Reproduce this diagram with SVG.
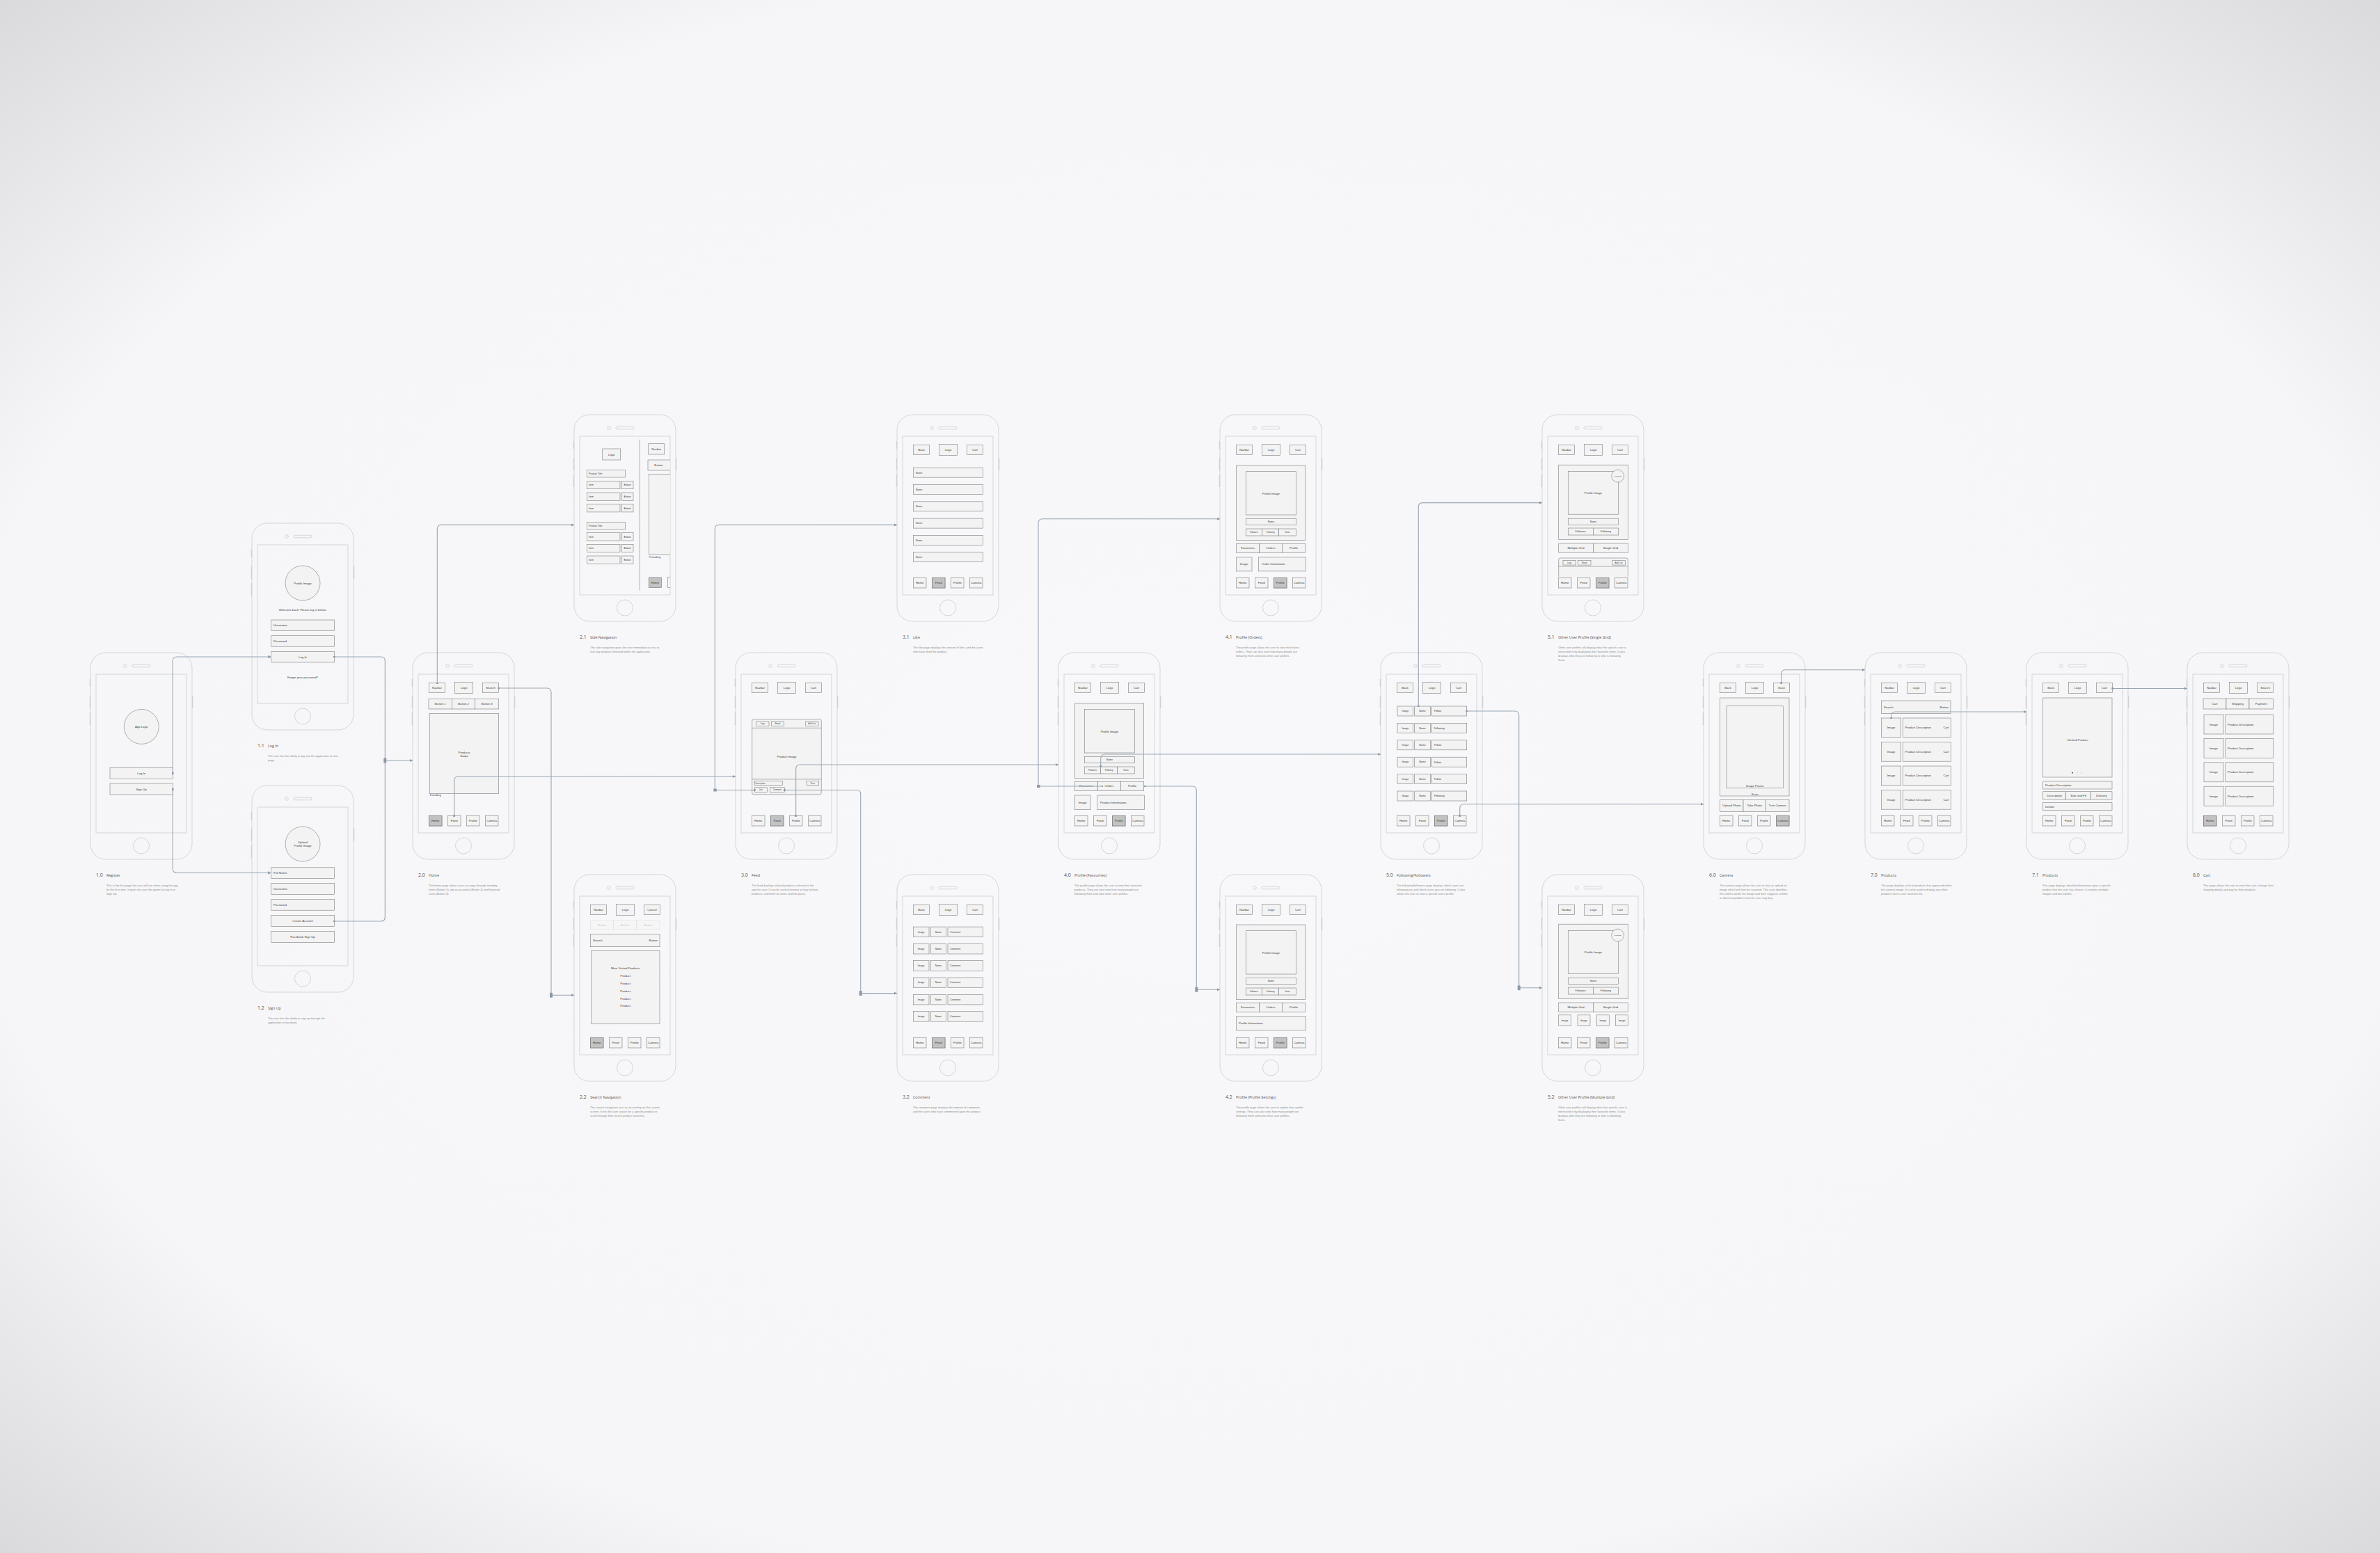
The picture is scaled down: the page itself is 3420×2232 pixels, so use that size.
<svg xmlns="http://www.w3.org/2000/svg" width="3420" height="2232" viewBox="0 0 3420 2232">
<defs>
<style>
.ph{fill:none;stroke:#d4d5d8;stroke-width:1}
.sb{fill:none;stroke:#d0d1d4;stroke-width:1.4}
.w{fill:#f3f3f3;stroke:#7e7e7e;stroke-width:.6}
.hl{fill:#c2c2c2;stroke:#6e6e6e;stroke-width:.6}
.fd{fill:#f6f6f6;stroke:#e0e0e0;stroke-width:.6}
.ln{fill:none;stroke:#7e7e7e;stroke-width:.6}
text{font-family:"Liberation Sans",Arial,sans-serif;fill:#3a3a3a}
.t{font-size:4.3px;text-anchor:middle}
.tl{font-size:4.3px}
.te{font-size:4.3px;text-anchor:end}
.s{font-size:3.5px;text-anchor:middle}
.sl{font-size:3.5px}
.xs{font-size:2.8px;text-anchor:middle}
.ft{font-size:4.3px;text-anchor:middle;fill:#c8c8c8}
.num{font-family:"Open Sans","Liberation Sans",sans-serif;font-size:7px;fill:#555}
.ttl{font-family:"Open Sans","Liberation Sans",sans-serif;font-size:5.3px;fill:#555}
.ds{font-size:4.05px;fill:#8a8a8a}
.cn{fill:none;stroke:#9aa5b1;stroke-width:1.1}
.jn{fill:#8d99a6}
</style>
<radialGradient id="bg" cx="50%" cy="50%" r="72%">
<stop offset="0" stop-color="#f8f8fa"/>
<stop offset="0.72" stop-color="#f6f6f8"/>
<stop offset="1" stop-color="#d8d8db"/>
</radialGradient>
<marker id="arr" viewBox="0 0 6 6" refX="6" refY="3" markerWidth="4.5" markerHeight="4.5" markerUnits="userSpaceOnUse" orient="auto">
<path d="M0,0 L6,3 L0,6 z" fill="#8d99a6"/>
</marker>
<marker id="sq" viewBox="0 0 4 4" refX="2" refY="2" markerWidth="2.8" markerHeight="2.8" markerUnits="userSpaceOnUse">
<rect width="4" height="4" fill="#8d99a6"/>
</marker>
<g id="frame">
<rect class="ph" x="0" y="0" width="146" height="297" rx="22"/>
<circle class="ph" cx="50" cy="19" r="2.3"/>
<rect class="ph" x="60" y="17.2" width="26" height="3.6" rx="1.8"/>
<rect class="ph" x="8" y="31" width="130" height="228"/>
<circle class="ph" cx="73" cy="277.5" r="11.5"/>
<path class="sb" d="M-0.6,38v11M-0.6,62v18M-0.6,86v18M146.6,62v18"/>
</g>
<g id="tb">
<rect class="w" x="23.5" y="43.5" width="23" height="14"/>
<rect class="w" x="60.5" y="42.5" width="26" height="16"/>
<rect class="w" x="100.5" y="43.5" width="23" height="14"/>
</g>
<g id="tabs">
<rect class="w" x="23.5" y="234.5" width="18.5" height="14.5"/>
<rect class="w" x="50.5" y="234.5" width="18.5" height="14.5"/>
<rect class="w" x="77.5" y="234.5" width="18.5" height="14.5"/>
<rect class="w" x="104.5" y="234.5" width="18.5" height="14.5"/>
</g>
<g id="tabt">
<text class="t" x="32.75" y="243.3">Home</text>
<text class="t" x="59.75" y="243.3">Feed</text>
<text class="t" x="86.75" y="243.3">Profile</text>
<text class="t" x="113.75" y="243.3">Camera</text>
</g>
<g id="fhead">
<rect class="w" x="29.7" y="0" width="18.3" height="6.6"/>
<rect class="w" x="51.3" y="0" width="18.4" height="6.6"/>
<rect class="w" x="100.7" y="0" width="18.3" height="6.6"/>
<text class="xs" x="38.85" y="4.3">Logo</text>
<text class="xs" x="60.5" y="4.3">Brand</text>
<text class="xs" x="109.85" y="4.3">Add Cart</text>
</g>
<g id="pcard">
<rect class="w" x="23.3" y="73" width="99.4" height="107.6"/>
<rect class="w" x="37.3" y="81.7" width="72" height="62.3"/>
<text class="t" x="73.3" y="114.5">Profile Image</text>
<rect class="w" x="37.3" y="149.4" width="72" height="9.3"/>
<text class="s" x="73.3" y="155.3">Name</text>
<rect class="w" x="37.3" y="164" width="23.4" height="10"/>
<rect class="w" x="60.7" y="164" width="24" height="10"/>
<rect class="w" x="84.7" y="164" width="24.6" height="10"/>
<text class="xs" x="49" y="170">Followers</text>
<text class="xs" x="72.7" y="170">Following</text>
<text class="xs" x="97" y="170">Views</text>
<rect class="w" x="23.3" y="185.2" width="33.4" height="13.3"/>
<rect class="w" x="56.7" y="185.2" width="32.6" height="13.3"/>
<rect class="w" x="89.3" y="185.2" width="33.4" height="13.3"/>
<text class="t" x="40" y="193.3">Favourites</text>
<text class="t" x="73" y="193.3">Orders</text>
<text class="t" x="106" y="193.3">Profile</text>
</g>
<g id="ucard">
<rect class="w" x="23.7" y="72.2" width="99.6" height="107.5"/>
<rect class="w" x="37.3" y="81.5" width="72.4" height="61.7"/>
<text class="t" x="73.5" y="114">Profile Image</text>
<circle class="w" cx="108.7" cy="88.1" r="9"/>
<text class="xs" x="108.7" y="89" style="font-size:2.3px">Following</text>
<rect class="w" x="37.3" y="149.2" width="72.4" height="9.2"/>
<text class="s" x="73.5" y="155">Name</text>
<rect class="w" x="37.3" y="163" width="36" height="10"/>
<rect class="w" x="73.3" y="163" width="36.4" height="10"/>
<text class="s" x="55.3" y="169.3">Followers</text>
<text class="s" x="91.5" y="169.3">Following</text>
<rect class="w" x="23.7" y="185" width="49.8" height="13.2"/>
<rect class="w" x="73.5" y="185" width="49.8" height="13.2"/>
<text class="t" x="48.6" y="193">Multiple Grid</text>
<text class="t" x="98.4" y="193">Single Grid</text>
</g>
<clipPath id="cp21"><rect x="94.5" y="31" width="43.5" height="228"/></clipPath>
</defs>

<rect x="0" y="0" width="3420" height="2232" fill="url(#bg)"/>

<!-- 1.0 Register -->
<g id="n-1-0" transform="translate(130,938)">
<use href="#frame"/>
<circle class="w" cx="73.3" cy="106.4" r="25"/>
<text class="t" x="73.3" y="108">App Logo</text>
<rect class="w" x="28" y="165.5" width="90.3" height="16"/>
<text class="t" x="73.2" y="175">Log In</text>
<rect class="w" x="28" y="188" width="90.3" height="16"/>
<text class="t" x="73.2" y="197.5">Sign Up</text>
<text class="num" x="8" y="322">1.0</text><text class="ttl" x="23" y="322">Register</text>
<text class="ds"><tspan x="23" y="335.5">This is the first page the user will see when using the app</tspan><tspan x="23" dy="6.1">for the first time. It gives the user the option to Log In or</tspan><tspan x="23" dy="6.1">Sign Up.</tspan></text>
</g>

<!-- 1.1 Log In -->
<g id="n-1-1" transform="translate(362,752)">
<use href="#frame"/>
<circle class="w" cx="73" cy="86" r="25"/>
<text class="t" x="73" y="87.5">Profile Image</text>
<text class="t" x="73" y="125.5">Welcome back! Please log in below.</text>
<rect class="w" x="27.7" y="139" width="90.6" height="15.6"/>
<text class="tl" x="31" y="148.4">Username</text>
<rect class="w" x="27.7" y="161.7" width="90.6" height="15.5"/>
<text class="tl" x="31" y="171">Password</text>
<rect class="w" x="27.7" y="184.3" width="90.6" height="15.6"/>
<text class="t" x="73" y="193.7">Log In</text>
<text class="t" x="73" y="222.5">Forgot your password?</text>
<text class="num" x="8" y="322">1.1</text><text class="ttl" x="23" y="322">Log In</text>
<text class="ds"><tspan x="23" y="335.5">The user has the ability to log into the application on this</tspan><tspan x="23" dy="6.1">page.</tspan></text>
</g>

<!-- 1.2 Sign Up -->
<g id="n-1-2" transform="translate(362,1129)">
<use href="#frame"/>
<circle class="w" cx="73" cy="84" r="25"/>
<text class="t" x="73" y="82.8">Upload</text>
<text class="t" x="73" y="88.3">Profile Image</text>
<rect class="w" x="27.7" y="117.8" width="90.6" height="15.6"/>
<text class="tl" x="31" y="127.2">Full Name</text>
<rect class="w" x="27.7" y="140.5" width="90.6" height="16"/>
<text class="tl" x="31" y="150">Username</text>
<rect class="w" x="27.7" y="163.6" width="90.6" height="15.6"/>
<text class="tl" x="31" y="173">Password</text>
<rect class="w" x="27.7" y="186.7" width="90.6" height="15.6"/>
<text class="t" x="73" y="196.1">Create Account</text>
<rect class="w" x="27.7" y="209.4" width="90.6" height="16"/>
<text class="t" x="73" y="219">Facebook Sign Up</text>
<text class="num" x="8" y="322">1.2</text><text class="ttl" x="23" y="322">Sign Up</text>
<text class="ds"><tspan x="23" y="335.5">The user has the ability to sign up through the</tspan><tspan x="23" dy="6.1">application or facebook.</tspan></text>
</g>

<!-- 2.0 Home -->
<g id="n-2-0" transform="translate(593,938)">
<use href="#frame"/>
<use href="#tb"/>
<text class="t" x="35" y="52">Navbar</text><text class="t" x="73.5" y="52">Logo</text><text class="t" x="112" y="52">Search</text>
<rect class="w" x="23" y="66.5" width="33.3" height="14.5"/>
<rect class="w" x="56.3" y="66.5" width="33.4" height="14.5"/>
<rect class="w" x="89.7" y="66.5" width="34" height="14.5"/>
<text class="t" x="39.7" y="75.3">Button 1</text><text class="t" x="73" y="75.3">Button 2</text><text class="t" x="106.7" y="75.3">Button 3</text>
<rect class="w" x="24.3" y="87.7" width="99.4" height="114.8"/>
<text class="t" x="74" y="144.5">Products</text><text class="t" x="74" y="149.8">Swipe</text>
<text class="tl" x="24" y="206.3">Trending</text>
<use href="#tabs"/>
<rect class="hl" x="23.5" y="234.5" width="18.5" height="14.5"/>
<use href="#tabt"/>
<text class="num" x="8" y="322">2.0</text><text class="ttl" x="23" y="322">Home</text>
<text class="ds"><tspan x="23" y="335.5">The home page allows users to swipe through trending</tspan><tspan x="23" dy="6.1">items (Button 1), top accessories (Button 2) and featured</tspan><tspan x="23" dy="6.1">icons (Button 3).</tspan></text>
</g>

<!-- 2.1 Side Navigation -->
<g id="n-2-1" transform="translate(825,596)">
<use href="#frame"/>
<line class="ln" x1="94.3" y1="35.7" x2="94.3" y2="252.6"/>
<rect class="w" x="40.7" y="49" width="26" height="16"/>
<text class="t" x="53.7" y="58.5">Logo</text>
<rect class="w" x="18.3" y="79.5" width="55" height="10.5"/>
<text class="sl" x="21" y="86">Product Title</text>
<rect class="w" x="18.3" y="95.4" width="47.7" height="11.3"/><rect class="w" x="68.3" y="95.4" width="16.7" height="11.3"/>
<rect class="w" x="18.3" y="112" width="47.7" height="11.3"/><rect class="w" x="68.3" y="112" width="16.7" height="11.3"/>
<rect class="w" x="18.3" y="128.6" width="47.7" height="11.3"/><rect class="w" x="68.3" y="128.6" width="16.7" height="11.3"/>
<text class="sl" x="21" y="102.3">Item</text><text class="s" x="76.65" y="102.3">Button</text>
<text class="sl" x="21" y="118.9">Item</text><text class="s" x="76.65" y="118.9">Button</text>
<text class="sl" x="21" y="135.5">Item</text><text class="s" x="76.65" y="135.5">Button</text>
<rect class="w" x="18.3" y="154.5" width="55" height="10.5"/>
<text class="sl" x="21" y="161">Product Title</text>
<rect class="w" x="18.3" y="169.7" width="47.7" height="11.3"/><rect class="w" x="68.3" y="169.7" width="16.7" height="11.3"/>
<rect class="w" x="18.3" y="186.3" width="47.7" height="11.3"/><rect class="w" x="68.3" y="186.3" width="16.7" height="11.3"/>
<rect class="w" x="18.3" y="203" width="47.7" height="11.3"/><rect class="w" x="68.3" y="203" width="16.7" height="11.3"/>
<text class="sl" x="21" y="176.6">Item</text><text class="s" x="76.65" y="176.6">Button</text>
<text class="sl" x="21" y="193.2">Item</text><text class="s" x="76.65" y="193.2">Button</text>
<text class="sl" x="21" y="209.9">Item</text><text class="s" x="76.65" y="209.9">Button</text>
<g clip-path="url(#cp21)">
<rect class="w" x="106.7" y="41.7" width="23" height="15.3"/>
<text class="t" x="118.2" y="50.8">Navbar</text>
<rect class="w" x="106" y="65" width="34" height="15"/>
<text class="t" x="121.5" y="73.8">Button</text>
<rect class="w" x="107.3" y="85.5" width="40" height="115.5"/>
<text class="tl" x="107.5" y="205.5">Trending</text>
<rect class="hl" x="107.3" y="234" width="18" height="14.5"/>
<text class="t" x="116.3" y="242.8">Home</text>
<rect class="w" x="134.3" y="234" width="18" height="14.5"/>
</g>
<text class="num" x="8" y="322">2.1</text><text class="ttl" x="23" y="322">Side Navigation</text>
<text class="ds"><tspan x="23" y="335.5">The side navigation gives the user immediate access to</tspan><tspan x="23" dy="6.1">visit any products featured within the application.</tspan></text>
</g>

<!-- 2.2 Search Navigation -->
<g id="n-2-2" transform="translate(825,1257)">
<use href="#frame"/>
<use href="#tb"/>
<text class="t" x="35" y="52">Navbar</text><text class="t" x="73.5" y="52">Logo</text><text class="t" x="112" y="52">Cancel</text>
<rect class="fd" x="23.5" y="66" width="33.2" height="13"/>
<rect class="fd" x="56.7" y="66" width="33.1" height="13"/>
<rect class="fd" x="89.8" y="66" width="33.2" height="13"/>
<text class="ft" x="40.1" y="74">Button</text><text class="ft" x="73.2" y="74">Button</text><text class="ft" x="106.4" y="74">Button</text>
<rect class="w" x="23.5" y="85.8" width="99.5" height="17.9"/>
<text class="tl" x="27" y="96.3">Search</text><text class="te" x="120" y="96.3">Button</text>
<rect class="w" x="24.3" y="109.6" width="98.7" height="104.8"/>
<text class="t" x="73.7" y="136.3">Most Visited Products</text>
<text class="t" x="73.7" y="146.9">Product</text>
<text class="t" x="73.7" y="157.5">Product</text>
<text class="t" x="73.7" y="168.8">Product</text>
<text class="t" x="73.7" y="179.5">Product</text>
<text class="t" x="73.7" y="190.1">Product</text>
<use href="#tabs"/>
<rect class="hl" x="23.5" y="234.5" width="18.5" height="14.5"/>
<use href="#tabt"/>
<text class="num" x="8" y="322">2.2</text><text class="ttl" x="23" y="322">Search Navigation</text>
<text class="ds"><tspan x="23" y="335.5">The search navigation acts as an overlay on the current</tspan><tspan x="23" dy="6.1">screen. It lets the user search for a specific product or</tspan><tspan x="23" dy="6.1">scroll through their recent product searches.</tspan></text>
</g>

<!-- 3.0 Feed -->
<g id="n-3-0" transform="translate(1057,938)">
<use href="#frame"/>
<use href="#tb"/>
<text class="t" x="35" y="52">Navbar</text><text class="t" x="73.5" y="52">Logo</text><text class="t" x="112" y="52">Cart</text>
<rect class="w" x="23.7" y="95.7" width="99.6" height="108.1" rx="2.5"/>
<line class="ln" x1="23.7" y1="108.3" x2="123.3" y2="108.3"/>
<line class="ln" x1="23.7" y1="181.9" x2="123.3" y2="181.9"/>
<use href="#fhead" transform="translate(0,99)"/>
<text class="t" x="73.5" y="150.5">Product Image</text>
<rect class="w" x="27.3" y="184.5" width="40" height="6"/>
<rect class="w" x="102" y="184.5" width="17.7" height="6"/>
<text class="xs" style="text-anchor:start" x="28.5" y="188.5">Description</text>
<text class="xs" x="110.85" y="188.5">Price</text>
<rect class="w" x="27.3" y="193.8" width="18" height="6.7"/>
<rect class="w" x="49.3" y="193.8" width="21" height="6.7"/>
<text class="xs" x="36.3" y="198.1">Like</text>
<text class="xs" x="59.8" y="198.1">Comment</text>
<use href="#tabs"/>
<rect class="hl" x="50.5" y="234.5" width="18.5" height="14.5"/>
<use href="#tabt"/>
<text class="num" x="8" y="322">3.0</text><text class="ttl" x="23" y="322">Feed</text>
<text class="ds"><tspan x="23" y="335.5">The feed displays tailored products relevant to the</tspan><tspan x="23" dy="6.1">specific user. It can be used to browse or buy fashion</tspan><tspan x="23" dy="6.1">products, comment on items and like posts.</tspan></text>
</g>

<!-- 3.1 Like -->
<g id="n-3-1" transform="translate(1289,596)">
<use href="#frame"/>
<use href="#tb"/>
<text class="t" x="35" y="52">Back</text><text class="t" x="73.5" y="52">Logo</text><text class="t" x="112" y="52">Cart</text>
<rect class="w" x="23.3" y="76.2" width="100" height="14"/>
<rect class="w" x="23.3" y="100.5" width="100" height="14"/>
<rect class="w" x="23.3" y="124.8" width="100" height="14"/>
<rect class="w" x="23.3" y="149.1" width="100" height="14"/>
<rect class="w" x="23.3" y="173.4" width="100" height="14"/>
<rect class="w" x="23.3" y="197.7" width="100" height="14"/>
<text class="sl" x="27" y="84.5">Name</text>
<text class="sl" x="27" y="108.8">Name</text>
<text class="sl" x="27" y="133.1">Name</text>
<text class="sl" x="27" y="157.4">Name</text>
<text class="sl" x="27" y="181.7">Name</text>
<text class="sl" x="27" y="206">Name</text>
<use href="#tabs"/>
<rect class="hl" x="50.5" y="234.5" width="18.5" height="14.5"/>
<use href="#tabt"/>
<text class="num" x="8" y="322">3.1</text><text class="ttl" x="23" y="322">Like</text>
<text class="ds"><tspan x="23" y="335.5">The like page displays the amount of likes and the users</tspan><tspan x="23" dy="6.1">who have liked the product.</tspan></text>
</g>

<!-- 3.2 Comment -->
<g id="n-3-2" transform="translate(1289,1257)">
<use href="#frame"/>
<use href="#tb"/>
<text class="t" x="35" y="52">Back</text><text class="t" x="73.5" y="52">Logo</text><text class="t" x="112" y="52">Cart</text>
<g id="crow">
<rect class="w" x="23.3" y="75.1" width="22.7" height="14.6"/>
<rect class="w" x="48.3" y="75.1" width="22" height="14.6"/>
<rect class="w" x="73" y="75.1" width="50.3" height="14.6"/>
<text class="s" x="34.65" y="83.6">Image</text>
<text class="s" x="59.3" y="83.6">Name</text>
<text class="sl" x="76" y="83.6">Comment</text>
</g>
<use href="#crow" transform="translate(0,24.3)"/>
<use href="#crow" transform="translate(0,48.6)"/>
<use href="#crow" transform="translate(0,72.9)"/>
<use href="#crow" transform="translate(0,97.2)"/>
<use href="#crow" transform="translate(0,121.5)"/>
<use href="#tabs"/>
<rect class="hl" x="50.5" y="234.5" width="18.5" height="14.5"/>
<use href="#tabt"/>
<text class="num" x="8" y="322">3.2</text><text class="ttl" x="23" y="322">Comment</text>
<text class="ds"><tspan x="23" y="335.5">The comment page displays the amount of comments</tspan><tspan x="23" dy="6.1">and the users who have commented upon the product.</tspan></text>
</g>

<!-- 4.0 Profile (Favourites) -->
<g id="n-4-0" transform="translate(1521,938)">
<use href="#frame"/>
<use href="#tb"/>
<text class="t" x="35" y="52">Navbar</text><text class="t" x="73.5" y="52">Logo</text><text class="t" x="112" y="52">Cart</text>
<use href="#pcard"/>
<rect class="w" x="23.3" y="205" width="22.7" height="20.7"/>
<text class="t" x="34.65" y="216.8">Image</text>
<rect class="w" x="55.7" y="205" width="67.6" height="20.7"/>
<text class="tl" x="60" y="216.8">Product Information</text>
<use href="#tabs"/>
<rect class="hl" x="77.5" y="234.5" width="18.5" height="14.5"/>
<use href="#tabt"/>
<text class="num" x="8" y="322">4.0</text><text class="ttl" x="23" y="322">Profile (Favourites)</text>
<text class="ds"><tspan x="23" y="335.5">The profile page allows the user to view their favourite</tspan><tspan x="23" dy="6.1">products. They can also view how many people are</tspan><tspan x="23" dy="6.1">following them and view other user profiles.</tspan></text>
</g>

<!-- 4.1 Profile (Orders) -->
<g id="n-4-1" transform="translate(1753,596)">
<use href="#frame"/>
<use href="#tb"/>
<text class="t" x="35" y="52">Navbar</text><text class="t" x="73.5" y="52">Logo</text><text class="t" x="112" y="52">Cart</text>
<use href="#pcard"/>
<rect class="w" x="23.3" y="204.9" width="22.7" height="20"/>
<text class="t" x="34.65" y="216.4">Image</text>
<rect class="w" x="55.3" y="204.9" width="68" height="20"/>
<text class="tl" x="60" y="216.4">Order Information</text>
<use href="#tabs"/>
<rect class="hl" x="77.5" y="234.5" width="18.5" height="14.5"/>
<use href="#tabt"/>
<text class="num" x="8" y="322">4.1</text><text class="ttl" x="23" y="322">Profile (Orders)</text>
<text class="ds"><tspan x="23" y="335.5">The profile page allows the user to view their latest</tspan><tspan x="23" dy="6.1">orders. They can also view how many people are</tspan><tspan x="23" dy="6.1">following them and view other user profiles.</tspan></text>
</g>

<!-- 4.2 Profile (Profile Settings) -->
<g id="n-4-2" transform="translate(1753,1257)">
<use href="#frame"/>
<use href="#tb"/>
<text class="t" x="35" y="52">Navbar</text><text class="t" x="73.5" y="52">Logo</text><text class="t" x="112" y="52">Cart</text>
<use href="#pcard" transform="translate(0,-1)"/>
<rect class="w" x="23.3" y="203.8" width="100" height="20"/>
<text class="tl" x="27" y="215.3">Profile Information</text>
<use href="#tabs"/>
<rect class="hl" x="77.5" y="234.5" width="18.5" height="14.5"/>
<use href="#tabt"/>
<text class="num" x="8" y="322">4.2</text><text class="ttl" x="23" y="322">Profile (Profile Settings)</text>
<text class="ds"><tspan x="23" y="335.5">The profile page allows the user to update their profile</tspan><tspan x="23" dy="6.1">settings. They can also view how many people are</tspan><tspan x="23" dy="6.1">following them and view other user profiles.</tspan></text>
</g>

<!-- 5.0 Following/Followers -->
<g id="n-5-0" transform="translate(1984,938)">
<use href="#frame"/>
<use href="#tb"/>
<text class="t" x="35" y="52">Back</text><text class="t" x="73.5" y="52">Logo</text><text class="t" x="112" y="52">Cart</text>
<g id="frow">
<rect class="w" x="24" y="77" width="22.7" height="14"/>
<rect class="w" x="48.7" y="77" width="22.6" height="14"/>
<rect class="w" x="73.3" y="77" width="50.4" height="14"/>
<text class="s" x="35.35" y="85.3">Image</text>
<text class="s" x="60" y="85.3">Name</text>
</g>
<use href="#frow" transform="translate(0,24.4)"/>
<use href="#frow" transform="translate(0,48.8)"/>
<use href="#frow" transform="translate(0,73.2)"/>
<use href="#frow" transform="translate(0,97.6)"/>
<use href="#frow" transform="translate(0,122)"/>
<text class="sl" x="77" y="85.3">Follow</text>
<text class="sl" x="77" y="109.7">Following</text>
<text class="sl" x="77" y="134.1">Follow</text>
<text class="sl" x="77" y="158.5">Follow</text>
<text class="sl" x="77" y="182.9">Follow</text>
<text class="sl" x="77" y="207.3">Following</text>
<use href="#tabs"/>
<rect class="hl" x="77.5" y="234.5" width="18.5" height="14.5"/>
<use href="#tabt"/>
<text class="num" x="8" y="322">5.0</text><text class="ttl" x="23" y="322">Following/Followers</text>
<text class="ds"><tspan x="23" y="335.5">The following/followers page displays which users are</tspan><tspan x="23" dy="6.1">following you and which users you are following. It also</tspan><tspan x="23" dy="6.1">allows the user to view a specific users profile.</tspan></text>
</g>

<!-- 5.1 Other User Profile (Single Grid) -->
<g id="n-5-1" transform="translate(2216,596)">
<use href="#frame"/>
<use href="#tb"/>
<text class="t" x="35" y="52">Navbar</text><text class="t" x="73.5" y="52">Logo</text><text class="t" x="112" y="52">Cart</text>
<use href="#ucard"/>
<path class="w" d="M23.7,232.7 V208.5 Q23.7,206 26.2,206 H120.8 Q123.3,206 123.3,208.5 V232.7"/>
<line class="ln" x1="23.7" y1="218" x2="123.3" y2="218"/>
<use href="#fhead" transform="translate(0.3,209.5)"/>
<use href="#tabs"/>
<rect class="hl" x="77.5" y="234.5" width="18.5" height="14.5"/>
<use href="#tabt"/>
<text class="num" x="8" y="322">5.1</text><text class="ttl" x="23" y="322">Other User Profile (Single Grid)</text>
<text class="ds"><tspan x="23" y="335.5">Other user profiles will display what the specific user is</tspan><tspan x="23" dy="6.1">interested in by displaying their favourite items. It also</tspan><tspan x="23" dy="6.1">displays who they are following or who is following</tspan><tspan x="23" dy="6.1">them.</tspan></text>
</g>

<!-- 5.2 Other User Profile (Multiple Grid) -->
<g id="n-5-2" transform="translate(2216,1257)">
<use href="#frame"/>
<use href="#tb"/>
<text class="t" x="35" y="52">Navbar</text><text class="t" x="73.5" y="52">Logo</text><text class="t" x="112" y="52">Cart</text>
<use href="#ucard" transform="translate(0,-1)"/>
<rect class="w" x="23.7" y="201.8" width="18" height="15.2"/>
<rect class="w" x="51" y="201.8" width="18" height="15.2"/>
<rect class="w" x="78.3" y="201.8" width="18" height="15.2"/>
<rect class="w" x="105.7" y="201.8" width="18" height="15.2"/>
<text class="s" x="32.7" y="210.6">Image</text>
<text class="s" x="60" y="210.6">Image</text>
<text class="s" x="87.3" y="210.6">Image</text>
<text class="s" x="114.7" y="210.6">Image</text>
<use href="#tabs"/>
<rect class="hl" x="77.5" y="234.5" width="18.5" height="14.5"/>
<use href="#tabt"/>
<text class="num" x="8" y="322">5.2</text><text class="ttl" x="23" y="322">Other User Profile (Multiple Grid)</text>
<text class="ds"><tspan x="23" y="335.5">Other user profiles will display what that specific user is</tspan><tspan x="23" dy="6.1">interested in by displaying their favourite items. It also</tspan><tspan x="23" dy="6.1">displays who they are following or who is following</tspan><tspan x="23" dy="6.1">them.</tspan></text>
</g>

<!-- 6.0 Camera -->
<g id="n-6-0" transform="translate(2448,938)">
<use href="#frame"/>
<use href="#tb"/>
<text class="t" x="35" y="52">Back</text><text class="t" x="73.5" y="52">Logo</text><text class="t" x="112" y="52">Scan</text>
<rect class="w" x="23.7" y="65" width="99.3" height="141"/>
<rect class="w" x="33" y="76.7" width="81.4" height="118"/>
<text class="t" x="73.7" y="193.4">Image Frame</text>
<text class="t" x="73.7" y="205">Scan</text>
<rect class="w" x="23.7" y="211.4" width="33.3" height="17"/>
<rect class="w" x="57" y="211.4" width="32.4" height="17"/>
<rect class="w" x="89.4" y="211.4" width="33.6" height="17"/>
<text class="t" x="40.35" y="221.4">Upload Photo</text>
<text class="t" x="73.2" y="221.4">Take Photo</text>
<text class="t" x="106.2" y="221.4">Turn Camera</text>
<use href="#tabs"/>
<rect class="hl" x="104.5" y="234.5" width="18.5" height="14.5"/>
<use href="#tabt"/>
<text class="num" x="8" y="322">6.0</text><text class="ttl" x="23" y="322">Camera</text>
<text class="ds"><tspan x="23" y="335.5">The camera page allows the user to take or upload an</tspan><tspan x="23" dy="6.1">image which will then be scanned. This scan identifies</tspan><tspan x="23" dy="6.1">the clothes within the image and then suggests similair</tspan><tspan x="23" dy="6.1">or identical products that the user may buy.</tspan></text>
</g>

<!-- 7.0 Products -->
<g id="n-7-0" transform="translate(2680,938)">
<use href="#frame"/>
<use href="#tb"/>
<text class="t" x="35" y="52">Navbar</text><text class="t" x="73.5" y="52">Logo</text><text class="t" x="112" y="52">Cart</text>
<rect class="w" x="23.3" y="69" width="99.7" height="18.4"/>
<text class="tl" x="27" y="79.7">Search</text><text class="te" x="120" y="79.7">Button</text>
<g id="prow">
<rect class="w" x="23.3" y="94" width="28.4" height="27.7"/>
<rect class="w" x="54.3" y="94" width="69" height="27.7"/>
<text class="t" x="37.5" y="109.4">Image</text>
<text class="tl" x="57.5" y="109.4">Product Description</text>
<text class="te" x="120.5" y="109.4">Cart</text>
</g>
<use href="#prow" transform="translate(0,34.5)"/>
<use href="#prow" transform="translate(0,69)"/>
<use href="#prow" transform="translate(0,103.5)"/>
<use href="#tabs"/>
<use href="#tabt"/>
<text class="num" x="8" y="322">7.0</text><text class="ttl" x="23" y="322">Products</text>
<text class="ds"><tspan x="23" y="335.5">This page displays a list of products that appeared within</tspan><tspan x="23" dy="6.1">the camera image. It is also used to display any other</tspan><tspan x="23" dy="6.1">products that a user searches for.</tspan></text>
</g>

<!-- 7.1 Products -->
<g id="n-7-1" transform="translate(2912,938)">
<use href="#frame"/>
<use href="#tb"/>
<text class="t" x="35" y="52">Back</text><text class="t" x="73.5" y="52">Logo</text><text class="t" x="112" y="52">Cart</text>
<rect class="w" x="23.7" y="65" width="99.3" height="114"/>
<text class="t" x="73.3" y="126.5">Clicked Product</text>
<circle cx="66" cy="172.7" r="0.9" fill="#333"/>
<circle cx="72.7" cy="172.7" r="0.9" fill="#d0d0d0"/>
<circle cx="79.3" cy="172.7" r="0.9" fill="#d0d0d0"/>
<rect class="w" x="23.7" y="185" width="99.3" height="11"/>
<text class="tl" x="27" y="192">Product Description</text>
<rect class="w" x="23.7" y="199.7" width="33" height="11.3"/>
<rect class="w" x="56.7" y="199.7" width="36" height="11.3"/>
<rect class="w" x="92.7" y="199.7" width="30.3" height="11.3"/>
<text class="t" x="40.2" y="206.9">Description</text>
<text class="t" x="74.7" y="206.9">Size and Fit</text>
<text class="t" x="107.85" y="206.9">Delivery</text>
<rect class="w" x="23.7" y="215.4" width="99.3" height="11.3"/>
<text class="tl" x="27" y="222.6">Details</text>
<use href="#tabs"/>
<use href="#tabt"/>
<text class="num" x="8" y="322">7.1</text><text class="ttl" x="23" y="322">Products</text>
<text class="ds"><tspan x="23" y="335.5">This page displays detailed information upon a specific</tspan><tspan x="23" dy="6.1">product that the user has chosen. It contains multiple</tspan><tspan x="23" dy="6.1">images and description.</tspan></text>
</g>

<!-- 8.0 Cart -->
<g id="n-8-0" transform="translate(3143,938)">
<use href="#frame"/>
<use href="#tb"/>
<text class="t" x="35" y="52">Navbar</text><text class="t" x="73.5" y="52">Logo</text><text class="t" x="112" y="52">Search</text>
<rect class="w" x="23" y="66" width="33" height="15"/>
<rect class="w" x="56" y="66" width="33" height="15"/>
<rect class="w" x="89" y="66" width="34.4" height="15"/>
<text class="t" x="39.5" y="75">Cart</text>
<text class="t" x="72.5" y="75">Shipping</text>
<text class="t" x="106.2" y="75">Payment</text>
<g id="crow8">
<rect class="w" x="24" y="89" width="28" height="28"/>
<rect class="w" x="54.7" y="89" width="69" height="28"/>
<text class="t" x="38" y="104.5">Image</text>
<text class="tl" x="58" y="104.5">Product Description</text>
</g>
<use href="#crow8" transform="translate(0,34.4)"/>
<use href="#crow8" transform="translate(0,68.8)"/>
<use href="#crow8" transform="translate(0,103.2)"/>
<use href="#tabs"/>
<rect class="hl" x="23.5" y="234.5" width="18.5" height="14.5"/>
<use href="#tabt"/>
<text class="num" x="8" y="322">8.0</text><text class="ttl" x="23" y="322">Cart</text>
<text class="ds"><tspan x="23" y="335.5">This page allows the user to view their cart, change their</tspan><tspan x="23" dy="6.1">shipping details and pay for their products.</tspan></text>
</g>

<!-- connectors -->
<g id="connectors">
<path class="cn" marker-start="url(#sq)" marker-end="url(#arr)" d="M248.3,1111.4 V950 Q248.3,944 254.3,944 H389.7"/>
<path class="cn" marker-start="url(#sq)" marker-end="url(#arr)" d="M248.3,1134.5 V1248.5 Q248.3,1254.5 254.3,1254.5 H389.7"/>
<path class="cn" marker-start="url(#sq)" d="M480.3,944 H547.3 Q553.3,944 553.3,950 V1093"/>
<path class="cn" marker-start="url(#sq)" d="M480.3,1324 H547.3 Q553.3,1324 553.3,1318 V1093"/>
<path class="cn" marker-end="url(#arr)" d="M553.3,1093 H593"/>
<rect class="jn" x="551.3" y="1089.5" width="4" height="7" rx="0.8"/>
<path class="cn" marker-start="url(#sq)" marker-end="url(#arr)" d="M628.3,982 V760.4 Q628.3,754.4 634.3,754.4 H825"/>
<path class="cn" marker-start="url(#sq)" marker-end="url(#arr)" d="M716.7,989 H786 Q792,989 792,995 V1430.3 H825"/>
<rect class="jn" x="790" y="1426.8" width="4" height="7" rx="0.8"/>
<path class="cn" marker-start="url(#sq)" marker-end="url(#arr)" d="M652.7,1172.5 V1122 Q652.7,1116 658.7,1116 H1057"/>
<path class="cn" marker-start="url(#sq)" marker-end="url(#arr)" d="M1084.3,1135.5 H1027.3 V760.4 Q1027.3,754.4 1033.3,754.4 H1289"/>
<rect class="jn" x="1025.3" y="1133.5" width="4.5" height="4" rx="0.6"/>
<path class="cn" marker-start="url(#sq)" marker-end="url(#arr)" d="M1127.3,1135.5 H1230.7 Q1236.7,1135.5 1236.7,1141.5 V1427.6 H1289"/>
<rect class="jn" x="1234.7" y="1424.1" width="4" height="7" rx="0.8"/>
<path class="cn" marker-start="url(#sq)" marker-end="url(#arr)" d="M1143.7,1172.5 V1105 Q1143.7,1099 1149.7,1099 H1521"/>
<path class="cn" marker-start="url(#sq)" marker-end="url(#arr)" d="M1584,1130 H1492 V751.8 Q1492,745.8 1498,745.8 H1753"/>
<rect class="jn" x="1490" y="1128" width="4.5" height="4" rx="0.6"/>
<path class="cn" marker-start="url(#sq)" marker-end="url(#arr)" d="M1645.3,1130 H1713.3 Q1719.3,1130 1719.3,1136 V1422.3 H1753"/>
<rect class="jn" x="1717.3" y="1418.8" width="4" height="7" rx="0.8"/>
<path class="cn" marker-start="url(#sq)" marker-end="url(#arr)" d="M1581.7,1101 V1090 Q1581.7,1084 1587.7,1084 H1984"/>
<path class="cn" marker-start="url(#sq)" marker-end="url(#arr)" d="M2038.3,1015 V728.6 Q2038.3,722.6 2044.3,722.6 H2216"/>
<path class="cn" marker-start="url(#sq)" marker-end="url(#arr)" d="M2107.7,1022 H2176.7 Q2182.7,1022 2182.7,1028 V1419.7 H2216"/>
<rect class="jn" x="2180.7" y="1416.2" width="4" height="7" rx="0.8"/>
<path class="cn" marker-start="url(#sq)" marker-end="url(#arr)" d="M2097.7,1172.5 V1161.7 Q2097.7,1155.7 2103.7,1155.7 H2448"/>
<path class="cn" marker-start="url(#sq)" marker-end="url(#arr)" d="M2559.7,981.5 V968.7 Q2559.7,962.7 2565.7,962.7 H2680"/>
<path class="cn" marker-start="url(#sq)" marker-end="url(#arr)" d="M2717.5,1032 V1029 Q2717.5,1023 2723.5,1023 H2912"/>
<path class="cn" marker-start="url(#sq)" marker-end="url(#arr)" d="M3035.7,989.5 H3143"/>
</g>
</svg>
